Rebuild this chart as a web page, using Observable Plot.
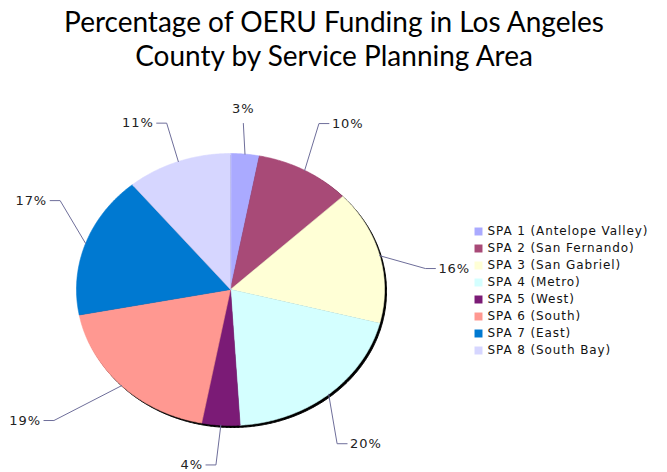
<!DOCTYPE html>
<html><head><meta charset="utf-8">
<script src="https://cdn.jsdelivr.net/npm/d3@7"></script>
<script src="https://cdn.jsdelivr.net/npm/@observablehq/plot@0.6"></script>
<style>
html,body{margin:0;padding:0;background:#fff;}
#wrap{position:relative;width:667px;height:472px;overflow:hidden;background:#fff;}
#chart{position:absolute;left:0;top:0;}
#legend{position:absolute;left:460px;top:215px;}
g[font-size="13"] text, #legend text{letter-spacing:0.9px;}
</style></head><body><div id="wrap"><div id="chart"></div><div id="legend"></div></div>
<script>
// ---- data ----
const areas = [
  "SPA 1 (Antelope Valley)",
  "SPA 2 (San Fernando)",
  "SPA 3 (San Gabriel)",
  "SPA 4 (Metro)",
  "SPA 5 (West)",
  "SPA 6 (South)",
  "SPA 7 (East)",
  "SPA 8 (South Bay)"
];
const shares = [3, 10, 16, 20, 4, 19, 17, 11];
const shareLabels = ["3%", "10%", "16%", "20%", "4%", "19%", "17%", "11%"];
const sliceColors = ["#aaaaff", "#a84a77", "#ffffd6", "#d4ffff", "#7b1b76", "#ff9891", "#0079d1", "#d6d6ff"];
const titleText = "Percentage of OERU Funding in Los Angeles\nCounty by Service Planning Area";

// ---- layout ----
const W = 667, H = 472;
const xRange = [76, 384], yRange = [425, 153];
const RX = (xRange[1] - xRange[0]) / 2, RY = (yRange[0] - yRange[1]) / 2;
const labelNudge = [[-6, 10], [-8, -11], [1, 23], [-21, 18], [-2, -1], [-35, 6], [18, -29], [4, 0]];
const FONT = "'DejaVu Sans', Verdana, sans-serif";

// ---- geometry derived from data ----
const arcs = d3.pie().sort(null).value(d => d)(shares);
const step = Math.PI / 360;
const slicePts = [];
arcs.forEach((a, i) => {
  slicePts.push({k: areas[i], x: 0, y: 0});
  const n = Math.max(2, Math.ceil((a.endAngle - a.startAngle) / step));
  for (let j = 0; j <= n; j++) {
    const t = a.startAngle + (a.endAngle - a.startAngle) * j / n;
    slicePts.push({k: areas[i], x: Math.sin(t), y: Math.cos(t)});
  }
});
const ellipsePts = d3.range(0, 721).map(j => {
  const t = j * step;
  return {x: Math.sin(t), y: Math.cos(t)};
});

const callouts = arcs.map((a, i) => {
  const m = (a.startAngle + a.endAngle) / 2;
  const s = Math.sin(m), c = Math.cos(m);
  const ex = 1.3 * s + labelNudge[i][0] / RX;
  const ey = 1.3 * c - labelNudge[i][1] / RY;
  const top = Math.abs(s) < 0.15 && c > 0;
  const side = top ? 0 : (ex >= 0 ? 1 : -1);
  const hx = ex + side * 10 / RX;
  return {i, text: shareLabels[i], s, c, ex, ey, hx, side};
});
const leaderPts = [];
callouts.forEach(d => {
  leaderPts.push({i: d.i, x: d.s, y: d.c});
  leaderPts.push({i: d.i, x: d.ex, y: d.ey});
  if (d.side !== 0) leaderPts.push({i: d.i, x: d.hx, y: d.ey});
});

const chart = Plot.plot({
  width: W, height: H,
  margin: 0,
  style: {background: "transparent", overflow: "visible"},
  x: {type: "linear", domain: [-1, 1], range: xRange, axis: null},
  y: {type: "linear", domain: [-1, 1], range: yRange, axis: null},
  color: {domain: areas, range: sliceColors},
  marks: [
    Plot.text([titleText], {frameAnchor: "top", dy: 8, lineAnchor: "top", text: d => d,
      fontSize: 28, lineHeight: 1.2, fontFamily: "Lato, 'Open Sans', sans-serif", fill: "#000"}),
    Plot.line(ellipsePts, {x: "x", y: "y", curve: "linear-closed", fill: "#000", stroke: "#000", strokeWidth: 1, dx: 2, dy: 2}),
    Plot.line(slicePts, {x: "x", y: "y", z: "k", fill: "k", stroke: "k", strokeWidth: 0.6, curve: "linear-closed"}),
    Plot.line(leaderPts, {x: "x", y: "y", z: "i", stroke: "#6e6e9a", strokeWidth: 1, curve: "linear"}),
    Plot.text(callouts.filter(d => d.side === 1), {x: "hx", y: "ey", text: "text", dx: 3, textAnchor: "start",
      fontSize: 13, fontFamily: FONT, fill: "#222"}),
    Plot.text(callouts.filter(d => d.side === -1), {x: "hx", y: "ey", text: "text", dx: -3, textAnchor: "end",
      fontSize: 13, fontFamily: FONT, fill: "#222"}),
    Plot.text(callouts.filter(d => d.side === 0), {x: "ex", y: "ey", text: "text", dy: -15, textAnchor: "middle",
      fontSize: 13, fontFamily: FONT, fill: "#222"})
  ]
});
document.getElementById("chart").appendChild(chart);

const legend = Plot.plot({
  width: 200, height: 150,
  margin: 0,
  style: {background: "transparent", overflow: "visible"},
  y: {type: "point", domain: areas, range: [15, 135], padding: 0, axis: null},
  color: {domain: areas, range: sliceColors},
  marks: [
    Plot.dot(areas, {y: d => d, frameAnchor: "left", dx: 18, symbol: "square", r: 4.5, fill: d => d, stroke: "none"}),
    Plot.text(areas, {y: d => d, text: d => d, frameAnchor: "left", dx: 27, textAnchor: "start",
      fontSize: 12, fontFamily: FONT, fill: "#111"})
  ]
});
document.getElementById("legend").appendChild(legend);
</script>
</body></html>
